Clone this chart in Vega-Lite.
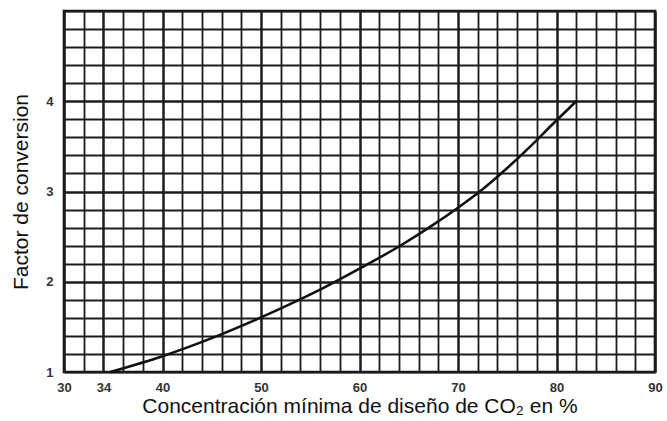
{
  "$schema": "https://vega.github.io/schema/vega-lite/v6.json",
  "width": 591,
  "height": 361,
  "autosize": "none",
  "padding": {"left": 64, "top": 11, "right": 12, "bottom": 49},
  "background": "white",
  "config": {
    "view": {"stroke": "#111", "strokeWidth": 2.6},
    "font": "Liberation Sans"
  },
  "data": {
    "values": [
      {"conc": 34.7, "factor": 1.0},
      {"conc": 40.0, "factor": 1.175},
      {"conc": 45.0, "factor": 1.375},
      {"conc": 50.0, "factor": 1.605},
      {"conc": 53.0, "factor": 1.755},
      {"conc": 56.3, "factor": 1.93},
      {"conc": 60.0, "factor": 2.145},
      {"conc": 64.3, "factor": 2.41},
      {"conc": 67.2, "factor": 2.61},
      {"conc": 70.0, "factor": 2.82},
      {"conc": 72.5, "factor": 3.025},
      {"conc": 75.0, "factor": 3.26},
      {"conc": 77.3, "factor": 3.495},
      {"conc": 79.6, "factor": 3.745},
      {"conc": 82.0, "factor": 4.0}
    ]
  },
  "mark": {"type": "line", "color": "#111", "strokeWidth": 2.6, "interpolate": "monotone"},
  "encoding": {
    "x": {
      "field": "conc",
      "type": "quantitative",
      "scale": {"domain": [30, 90], "nice": false, "zero": false},
      "axis": {
        "title": "Concentración mínima de diseño de CO₂ en %",
        "titleFont": "Liberation Sans",
        "titleFontSize": 21,
        "titleFontWeight": "normal",
        "titleColor": "#111",
        "titlePadding": 1,
        "values": [30,32,34,36,38,40,42,44,46,48,50,52,54,56,58,60,62,64,66,68,70,72,74,76,78,80,82,84,86,88,90],
        "labelExpr": "indexof([30,34,40,50,60,70,80,90], datum.value) >= 0 ? format(datum.value, 'd') : ''",
        "labelFontSize": 13,
        "labelFontWeight": "bold",
        "labelColor": "#333",
        "labelPadding": 9,
        "labelFlush": false,
        "ticks": false,
        "domain": false,
        "grid": true,
        "gridColor": "#1c1c1c",
        "gridOpacity": 1,
        "gridWidth": {"condition": {"test": "datum.value % 10 === 0 || datum.value === 34", "value": 2.5}, "value": 1.8}
      }
    },
    "y": {
      "field": "factor",
      "type": "quantitative",
      "scale": {"domain": [1, 5], "nice": false, "zero": false},
      "axis": {
        "title": "Factor de conversion",
        "titleFont": "Liberation Sans",
        "titleFontSize": 21,
        "titleFontWeight": "normal",
        "titleColor": "#111",
        "titlePadding": 14,
        "values": [1,1.2,1.4,1.6,1.8,2,2.2,2.4,2.6,2.8,3,3.2,3.4,3.6,3.8,4,4.2,4.4,4.6,4.8,5],
        "labelExpr": "(datum.value === 1 || datum.value === 2 || datum.value === 3 || datum.value === 4) ? format(datum.value, 'd') : ''",
        "labelFontSize": 13,
        "labelFontWeight": "bold",
        "labelColor": "#333",
        "labelPadding": 11,
        "ticks": false,
        "domain": false,
        "grid": true,
        "gridColor": "#1c1c1c",
        "gridOpacity": 1,
        "gridWidth": {"condition": {"test": "datum.value === 2 || datum.value === 3 || datum.value === 4", "value": 2.5}, "value": 1.8}
      }
    }
  }
}
